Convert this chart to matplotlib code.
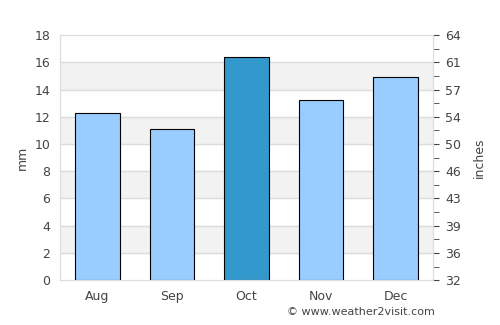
import matplotlib
matplotlib.use("Agg")
import matplotlib.pyplot as plt
from matplotlib.ticker import MultipleLocator

months = ["Aug", "Sep", "Oct", "Nov", "Dec"]
rain_mm = [12.3, 11.1, 16.4, 13.2, 14.9]
bar_colors = ["#99ccff", "#99ccff", "#3399cc", "#99ccff", "#99ccff"]
right_labels = ["32", "36", "39", "43", "46", "50", "54", "57", "61", "64"]

text_color = "#444444"
grid_color = "#dddddd"

fig = plt.figure(figsize=(5, 3.25), dpi=100)
ax = fig.add_axes([0.12, 0.138, 0.746, 0.754])

ax.set_xlim(-0.5, len(months) - 0.5)
ax.set_ylim(0, 18)

# alternating bands
for lo in range(2, 18, 4):
    ax.axhspan(lo, lo + 2, color="#f2f2f2", zorder=0)
for y in range(2, 18, 2):
    ax.axhline(y, color=grid_color, linewidth=1, zorder=1)

ax.bar(range(len(months)), rain_mm, width=0.6, color=bar_colors,
       edgecolor="black", linewidth=0.8, zorder=3)

ax.set_xticks(range(len(months)))
ax.set_xticklabels(months)
ax.set_yticks(range(0, 19, 2))
ax.tick_params(axis="both", length=0, colors=text_color, labelsize=9, pad=7)
ax.set_ylabel("mm", color=text_color, fontsize=9, labelpad=4)
for s in ax.spines.values():
    s.set_color(grid_color)

ax2 = ax.twinx()
ax2.set_ylim(0, 18)
ax2.set_yticks(range(0, 19, 2))
ax2.set_yticklabels(right_labels)
ax2.yaxis.set_minor_locator(MultipleLocator(1))
ax2.tick_params(axis="y", which="major", length=4, colors=text_color,
                labelsize=9, pad=5)
ax2.tick_params(axis="y", which="minor", length=4, color=text_color)
ax2.tick_params(axis="y", which="major", color=text_color)
ax2.set_ylabel("inches", color=text_color, fontsize=9, labelpad=8)
for s in ax2.spines.values():
    s.set_color(grid_color)

fig.text(0.87, 0.025, "© www.weather2visit.com", ha="right", va="bottom",
         fontsize=8, color=text_color)

fig.savefig("out.png", dpi=100)
